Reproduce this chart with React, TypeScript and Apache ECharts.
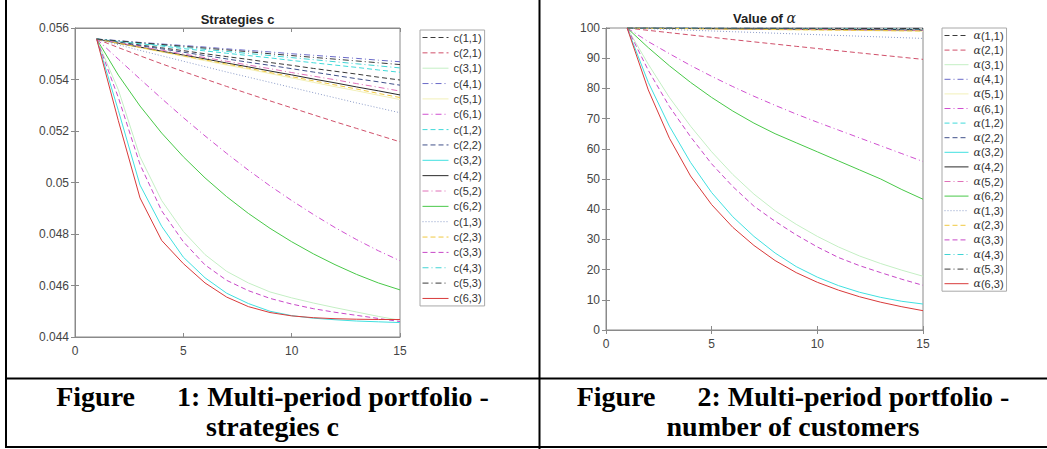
import { useEffect, useRef } from 'react';
import * as echarts from 'echarts';

// ---------- data ----------
const periods = [1, 2, 3, 4, 5, 6, 7, 8, 9, 10, 11, 12, 13, 14, 15];

const xTicks = [0, 5, 10, 15];
const cTicks = [0.044, 0.046, 0.048, 0.05, 0.052, 0.054, 0.056];
const alphaTicks = [0, 10, 20, 30, 40, 50, 60, 70, 80, 90, 100];

const leftNames = ['c(1,1)', 'c(2,1)', 'c(3,1)', 'c(4,1)', 'c(5,1)', 'c(6,1)', 'c(1,2)', 'c(2,2)', 'c(3,2)', 'c(4,2)', 'c(5,2)', 'c(6,2)', 'c(1,3)', 'c(2,3)', 'c(3,3)', 'c(4,3)', 'c(5,3)', 'c(6,3)'];
const rightNames = ['α(1,1)', 'α(2,1)', 'α(3,1)', 'α(4,1)', 'α(5,1)', 'α(6,1)', 'α(1,2)', 'α(2,2)', 'α(3,2)', 'α(4,2)', 'α(5,2)', 'α(6,2)', 'α(1,3)', 'α(2,3)', 'α(3,3)', 'α(4,3)', 'α(5,3)', 'α(6,3)'];

// strategies c
const c11 = [0.05557, 0.05546, 0.05534, 0.05523, 0.05512, 0.05500, 0.05489, 0.05478, 0.05466, 0.05455, 0.05443, 0.05432, 0.05421, 0.05409, 0.05398];
const c21 = [0.05557, 0.05524, 0.05492, 0.05461, 0.05431, 0.05402, 0.05373, 0.05345, 0.05317, 0.05290, 0.05263, 0.05236, 0.05210, 0.05184, 0.05158];
const c31 = [0.05557, 0.0536, 0.0510, 0.0493, 0.0481, 0.0472, 0.04655, 0.0461, 0.04575, 0.04552, 0.04532, 0.04514, 0.04497, 0.0448, 0.04465];
const c41 = [0.05557, 0.05551, 0.05544, 0.05538, 0.05532, 0.05526, 0.05519, 0.05513, 0.05507, 0.05500, 0.05494, 0.05488, 0.05482, 0.05475, 0.05469];
const c51 = [0.05557, 0.05540, 0.05523, 0.05507, 0.05490, 0.05473, 0.05456, 0.05440, 0.05423, 0.05406, 0.05389, 0.05372, 0.05356, 0.05339, 0.05322];
const c61 = [0.05557, 0.05479, 0.05402, 0.05326, 0.05252, 0.05181, 0.05113, 0.05048, 0.04987, 0.04930, 0.04876, 0.04825, 0.04778, 0.04735, 0.04696];
const c12 = [0.05557, 0.05548, 0.05539, 0.05530, 0.05520, 0.05511, 0.05502, 0.05493, 0.05484, 0.05474, 0.05465, 0.05456, 0.05447, 0.05437, 0.05428];
const c22 = [0.05557, 0.05544, 0.05531, 0.05519, 0.05506, 0.05493, 0.05480, 0.05467, 0.05455, 0.05442, 0.05429, 0.05416, 0.05403, 0.05391, 0.05378];
const c32 = [0.05557, 0.0528, 0.0499, 0.0483, 0.0471, 0.0463, 0.0457, 0.0453, 0.0450, 0.04483, 0.04473, 0.04467, 0.04462, 0.04459, 0.04456];
const c42 = [0.05557, 0.05541, 0.05526, 0.05510, 0.05495, 0.05480, 0.05464, 0.05449, 0.05433, 0.05418, 0.05402, 0.05387, 0.05371, 0.05356, 0.05340];
const c52 = [0.05557, 0.05543, 0.05528, 0.05514, 0.05499, 0.05485, 0.05471, 0.05456, 0.05442, 0.05427, 0.05413, 0.05399, 0.05384, 0.05370, 0.05355];
const c62 = [0.05557, 0.05417, 0.05297, 0.05192, 0.05100, 0.05018, 0.04945, 0.04880, 0.04822, 0.04770, 0.04723, 0.04681, 0.04643, 0.04610, 0.04583];
const c13 = [0.05557, 0.05535, 0.05513, 0.05492, 0.05471, 0.05450, 0.05429, 0.05409, 0.05389, 0.05369, 0.05349, 0.05329, 0.05309, 0.05290, 0.05271];
const c23 = [0.05557, 0.05541, 0.05525, 0.05508, 0.05492, 0.05476, 0.05460, 0.05444, 0.05427, 0.05411, 0.05395, 0.05379, 0.05363, 0.05346, 0.05330];
const c33 = [0.05557, 0.0533, 0.0507, 0.0489, 0.0477, 0.0468, 0.0462, 0.0458, 0.0455, 0.04528, 0.0451, 0.04496, 0.04484, 0.04472, 0.0446];
const c43 = [0.05557, 0.05549, 0.05541, 0.05533, 0.05525, 0.05517, 0.05509, 0.05501, 0.05493, 0.05485, 0.05477, 0.05469, 0.05461, 0.05453, 0.05445];
const c53 = [0.05557, 0.05550, 0.05543, 0.05536, 0.05529, 0.05522, 0.05515, 0.05508, 0.05500, 0.05493, 0.05486, 0.05479, 0.05472, 0.05465, 0.05458];
const c63 = [0.05557, 0.0524, 0.0494, 0.04775, 0.04685, 0.0461, 0.04555, 0.04518, 0.04495, 0.04482, 0.04475, 0.04471, 0.04469, 0.04468, 0.04468];

// value of alpha
const a11 = [100, 99.96, 99.93, 99.89, 99.86, 99.82, 99.79, 99.75, 99.72, 99.68, 99.65, 99.61, 99.58, 99.54, 99.5];
const a21 = [100, 99.22, 98.45, 97.68, 96.92, 96.16, 95.41, 94.67, 93.93, 93.2, 92.47, 91.75, 91.03, 90.32, 89.62];
const a31 = [100, 88, 77, 67.5, 59, 51.5, 45, 39.5, 35, 31, 27.5, 24.5, 22, 19.8, 17.8];
const a41 = [100, 99.99, 99.98, 99.98, 99.97, 99.96, 99.95, 99.94, 99.94, 99.93, 99.92, 99.91, 99.9, 99.9, 99.89];
const a51 = [100, 99.92, 99.85, 99.77, 99.69, 99.61, 99.54, 99.46, 99.38, 99.31, 99.23, 99.15, 99.08, 99.0, 98.92];
const a61 = [100, 95.5, 91.5, 87.6, 84, 80.6, 77.4, 74.4, 71.5, 68.8, 66.2, 63.6, 61, 58.4, 55.8];
const a12 = [100, 99.97, 99.94, 99.91, 99.88, 99.85, 99.82, 99.79, 99.76, 99.73, 99.7, 99.67, 99.64, 99.61, 99.58];
const a22 = [100, 99.96, 99.92, 99.87, 99.83, 99.79, 99.75, 99.71, 99.66, 99.62, 99.58, 99.54, 99.49, 99.45, 99.41];
const a32 = [100, 82, 67.5, 55.5, 45.5, 37.5, 31, 25.5, 21, 17.5, 14.7, 12.5, 10.8, 9.5, 8.6];
const a42 = [100, 99.95, 99.9, 99.85, 99.8, 99.75, 99.7, 99.65, 99.6, 99.55, 99.5, 99.45, 99.4, 99.35, 99.3];
const a52 = [100, 99.94, 99.89, 99.83, 99.77, 99.71, 99.66, 99.6, 99.54, 99.49, 99.43, 99.37, 99.31, 99.26, 99.2];
const a62 = [100, 93.5, 87.5, 82, 77, 72.5, 68.5, 65, 62, 59, 56, 53, 50, 46.5, 43.3];
const a13 = [100, 99.76, 99.51, 99.26, 99.02, 98.77, 98.53, 98.28, 98.03, 97.79, 97.54, 97.29, 97.04, 96.8, 96.55];
const a23 = [100, 99.93, 99.86, 99.79, 99.71, 99.64, 99.57, 99.5, 99.43, 99.36, 99.29, 99.21, 99.14, 99.07, 99.0];
const a33 = [100, 86, 74, 64, 55, 47.5, 41, 36, 31.5, 27.5, 24, 21.3, 19, 16.8, 14.8];
const a43 = [100, 99.98, 99.96, 99.94, 99.92, 99.9, 99.88, 99.86, 99.84, 99.82, 99.8, 99.78, 99.76, 99.74, 99.72];
const a53 = [100, 99.99, 99.97, 99.96, 99.95, 99.93, 99.92, 99.91, 99.89, 99.88, 99.87, 99.85, 99.84, 99.83, 99.81];
const a63 = [100, 79.5, 63.5, 51, 41.5, 34, 28, 23, 19, 15.8, 13.2, 11, 9.2, 7.7, 6.4];

const leftValues = [c11, c21, c31, c41, c51, c61, c12, c22, c32, c42, c52, c62, c13, c23, c33, c43, c53, c63];
const rightValues = [a11, a21, a31, a41, a51, a61, a12, a22, a32, a42, a52, a62, a13, a23, a33, a43, a53, a63];

const titles = ['Strategies c', 'Value of {g|α}'];
const captions = [
  ['Figure      1: Multi-period portfolio -', 'strategies c'],
  ['Figure      2: Multi-period portfolio -', 'number of customers'],
];

// ---------- styles ----------
const DASH = [5, 3];
const DOT = [1, 2];
const DASHDOT = [6, 3, 1, 3];
const lineColors = ['#3a3a3a', '#d0506a', '#c4efc4', '#6a6ac8', '#f2f0b8', '#d050d0', '#40dada', '#40508a', '#40e0e0', '#2a2a2a', '#e070b8', '#48c848', '#8c9cc8', '#f0c840', '#c848c8', '#40d4d4', '#3a3a3a', '#d83a3a'];
const lineDashes: any[] = [DASH, DASH, 'solid', DASHDOT, 'solid', DASHDOT, DASH, DASH, 'solid', 'solid', DASHDOT, 'solid', DOT, DASH, DASH, DASHDOT, DASHDOT, 'solid'];

const G1 = { left: 75, top: 28, width: 325, height: 309 };
const G2 = { left: 606, top: 28, width: 317, height: 302 };

const AXIS_COLOR = '#8a8a8a';
const LABEL_COLOR = '#444';
const SANS = 'Liberation Sans, Arial, sans-serif';

function axisBase(show: boolean, margin: number) {
  return {
    axisLine: { show: true, lineStyle: { color: AXIS_COLOR, width: 1 } },
    axisTick: { show: true, inside: true, length: 4, lineStyle: { color: AXIS_COLOR } },
    axisLabel: { show, color: LABEL_COLOR, fontSize: 12, fontFamily: SANS, margin },
    splitLine: { show: false },
  };
}

export default function App() {
  const ref = useRef<HTMLDivElement>(null);
  useEffect(() => {
    if (!ref.current) return;
    const chart = echarts.init(ref.current, undefined, { renderer: 'svg' });

    const makeSeries = (names: string[], values: number[][], axisIdx: number) =>
      names.map((name, i) => ({
        name,
        type: 'line',
        xAxisIndex: axisIdx,
        yAxisIndex: axisIdx,
        data: periods.map((t, k) => [t, values[i][k]]),
        symbol: 'none',
        showSymbol: false,
        silent: true,
        lineStyle: { color: lineColors[i], width: 1, type: lineDashes[i] },
        itemStyle: { color: lineColors[i] },
      }));

    const legendBase = {
      orient: 'vertical',
      borderColor: '#a8a8a8',
      borderWidth: 1,
      backgroundColor: '#fff',
      itemHeight: 10,
      selectedMode: false,
      lineStyle: { width: 1 },
      itemStyle: { opacity: 0, borderWidth: 0 },
    };

    const richT = { fontFamily: SANS, fontSize: 11, color: '#333', lineHeight: 10 };
    const richG = { fontFamily: 'DejaVu Serif', fontStyle: 'italic', fontSize: 11, color: '#333', lineHeight: 10 };

    const option: any = {
      animation: false,
      backgroundColor: '#fff',
      grid: [
        { ...G1, show: true, borderColor: AXIS_COLOR, borderWidth: 1, containLabel: false },
        { ...G2, show: true, borderColor: AXIS_COLOR, borderWidth: 1, containLabel: false },
      ],
      xAxis: [
        { type: 'value', gridIndex: 0, min: xTicks[0], max: xTicks[xTicks.length - 1], interval: 5, ...axisBase(true, 8) },
        { type: 'value', gridIndex: 1, min: xTicks[0], max: xTicks[xTicks.length - 1], interval: 5, ...axisBase(true, 8) },
        { type: 'value', gridIndex: 0, position: 'top', min: xTicks[0], max: xTicks[xTicks.length - 1], interval: 5, ...axisBase(false, 8) },
        { type: 'value', gridIndex: 1, position: 'top', min: xTicks[0], max: xTicks[xTicks.length - 1], interval: 5, ...axisBase(false, 8) },
      ],
      yAxis: [
        { type: 'value', gridIndex: 0, min: cTicks[0], max: cTicks[cTicks.length - 1], interval: 0.002, ...axisBase(true, 6),
          axisLabel: { color: LABEL_COLOR, fontSize: 12, fontFamily: SANS, margin: 6, formatter: (v: number) => String(Number(v.toFixed(3))) } },
        { type: 'value', gridIndex: 1, min: alphaTicks[0], max: alphaTicks[alphaTicks.length - 1], interval: 10, ...axisBase(true, 6) },
        { type: 'value', gridIndex: 0, position: 'right', min: cTicks[0], max: cTicks[cTicks.length - 1], interval: 0.002, ...axisBase(false, 6) },
        { type: 'value', gridIndex: 1, position: 'right', min: alphaTicks[0], max: alphaTicks[alphaTicks.length - 1], interval: 10, ...axisBase(false, 6) },
      ],
      legend: [
        {
          ...legendBase,
          data: leftNames,
          left: 420,
          top: 30,
          padding: [2, 3, 2, 2],
          itemGap: 4.35,
          itemWidth: 26,
          textStyle: richT,
        },
        {
          ...legendBase,
          data: rightNames,
          left: 942,
          top: 28,
          padding: [2, 3, 2, 2],
          itemGap: 3.6,
          itemWidth: 24,
          formatter: (name: string) => `{g|α}{t|${name.slice(1)}}`,
          textStyle: { ...richT, rich: { g: richG, t: richT } },
        },
      ],
      series: [...makeSeries(leftNames, leftValues, 0), ...makeSeries(rightNames, rightValues, 1)],
      graphic: [
        // titles
        {
          type: 'text', x: G1.left + G1.width / 2, y: 19,
          style: { text: titles[0], align: 'center', verticalAlign: 'middle', fontFamily: SANS, fontWeight: 'bold', fontSize: 13, fill: '#222' },
        },
        {
          type: 'text', x: G2.left + G2.width / 2, y: 18,
          style: {
            text: titles[1], align: 'center', verticalAlign: 'middle', fontFamily: SANS, fontWeight: 'bold', fontSize: 13, fill: '#222',
            rich: { g: { fontFamily: 'DejaVu Serif', fontStyle: 'italic', fontWeight: 'normal', fontSize: 14, fill: '#222' } },
          },
        },
        // table borders
        { type: 'line', shape: { x1: 6, y1: 0, x2: 6, y2: 448 }, style: { stroke: '#000', lineWidth: 2 } },
        { type: 'line', shape: { x1: 539.5, y1: 0, x2: 539.5, y2: 449 }, style: { stroke: '#000', lineWidth: 2 } },
        { type: 'line', shape: { x1: 5, y1: 378.5, x2: 1047, y2: 378.5 }, style: { stroke: '#000', lineWidth: 2 } },
        { type: 'line', shape: { x1: 5, y1: 447, x2: 1047, y2: 447 }, style: { stroke: '#000', lineWidth: 2 } },
        // captions
        ...captions.flatMap((lines, ci) =>
          lines.map((txt, li) => ({
            type: 'text',
            x: ci === 0 ? 272.5 : 793,
            y: 396 + li * 30,
            style: { text: txt, align: 'center', verticalAlign: 'middle', fontFamily: 'Liberation Serif, Times New Roman, serif', fontWeight: 'bold', fontSize: 28, fill: '#000' },
          }))
        ),
      ],
    };

    chart.setOption(option);
    return () => chart.dispose();
  }, []);

  return <div ref={ref} style={{ position: 'fixed', left: 0, top: 0, width: 1047, height: 449, background: '#fff' }} />;
}
